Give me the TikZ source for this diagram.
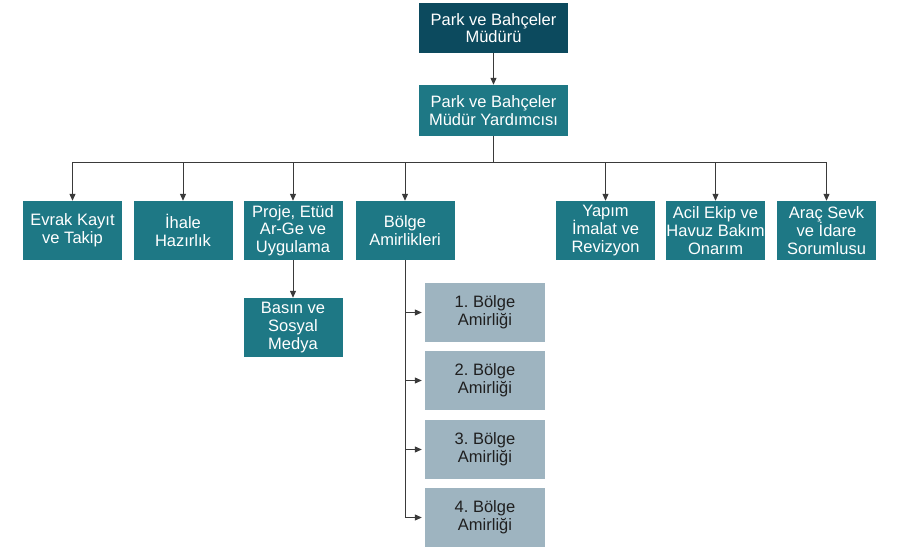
\documentclass[tikz,border=0pt]{standalone}
\usepackage{fontspec}
\setmainfont{Liberation Sans}
\usetikzlibrary{arrows.meta}
\definecolor{darkteal}{HTML}{0C4A5E}
\definecolor{teal}{HTML}{1E7885}
\definecolor{greyblue}{HTML}{9EB4C0}
\definecolor{linec}{HTML}{3A3A3A}
\frenchspacing
\begin{document}
\begin{tikzpicture}[x=1pt,y=-1pt,
  box/.style={draw=none, fill=teal, text=white, inner sep=0pt, align=center,
    font=\fontsize{16.5}{17.7}\selectfont\frenchspacing},
  topbox/.style={box, fill=darkteal, minimum width=149pt, minimum height=50pt},
  midbox/.style={box, minimum width=149pt, minimum height=51pt},
  unit/.style={box, minimum width=99pt, minimum height=59pt},
  sub/.style={box, fill=greyblue, text=black!88, minimum width=120pt, minimum height=59pt},
  conn/.style={draw=linec, line width=1pt},
  arr/.style={conn, -{Triangle[length=7pt,width=6pt]}}]
\useasboundingbox (0,0) rectangle (909,548);

\node[topbox] (mud) at (493.5,28) {Park ve Bahçeler\\Müdürü};
\node[midbox] (yard) at (493.5,110.5) {Park ve Bahçeler\\Müdür Yardımcısı};

\node[unit] (evrak) at (72.5,230.5) {Evrak Kayıt\\ve Takip};
\node[unit] (ihale) at (183,230.5) {İhale\\Hazırlık};
\node[unit] (proje) at (293,230.5) {Proje, Etüd\\Ar-Ge ve\\Uygulama};
\node[unit] (bolge) at (405,230.5) {Bölge\\Amirlikleri};
\node[unit] (yapim) at (605.5,230.5) {Yapım\\İmalat ve\\Revizyon};
\node[unit] (acil) at (715.5,230.5) {Acil Ekip ve\\Havuz Bakım\\Onarım};
\node[unit] (arac) at (826.5,230.5) {Araç Sevk\\ve İdare\\Sorumlusu};

\node[unit] (basin) at (293,327.5) {Basın ve\\Sosyal\\Medya};

\node[sub] (b1) at (485,312.5) {1. Bölge\\Amirliği};
\node[sub] (b2) at (485,380.5) {2. Bölge\\Amirliği};
\node[sub] (b3) at (485,449.5) {3. Bölge\\Amirliği};
\node[sub] (b4) at (485,517.5) {4. Bölge\\Amirliği};

\draw[arr] (mud.south) -- (yard.north);
\coordinate (bus) at (493.5,163);
\draw[conn] (yard.south) -- (bus);
\foreach \n in {evrak,ihale,proje,bolge,yapim,acil,arac}
  \draw[arr] (bus) -| (\n.north);
\draw[arr] (proje.south) -- (basin.north);
\foreach \n in {b1,b2,b3,b4}
  \draw[arr] (bolge.south) |- ([xshift=-3pt]\n.west);
\end{tikzpicture}
\end{document}
